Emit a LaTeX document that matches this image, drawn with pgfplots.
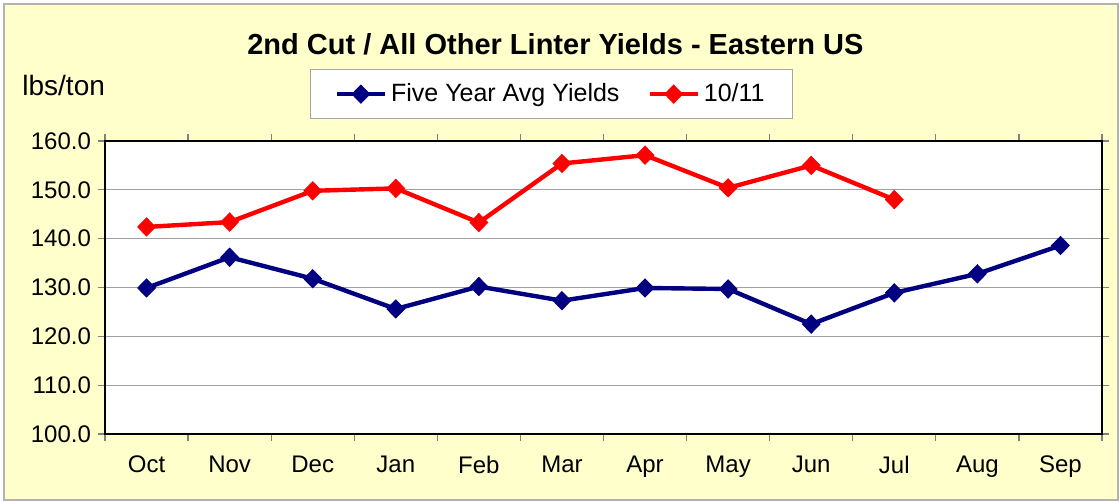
\documentclass[border=0pt]{standalone}
\usepackage{fontspec}
\setmainfont{Liberation Sans}
\usepackage{pgfplots}
\pgfplotsset{compat=1.18}
\definecolor{bgyellow}{HTML}{FFFFCC}
\definecolor{navyline}{HTML}{000080}
\definecolor{redline}{HTML}{FF0000}
\definecolor{gridgray}{HTML}{A0A0A0}
\begin{document}
\begin{tikzpicture}
\fill[white] (0pt,0pt) rectangle (560pt,251pt);
\fill[bgyellow] (2pt,1pt) rectangle (559pt,249pt);
\draw[gray!60, line width=0.6pt] (2pt,1pt) rectangle (559pt,249pt);
\node[anchor=base, font=\fontsize{14.5}{16}\selectfont\bfseries, inner sep=0pt] at (277.7pt,223.5pt) {2nd Cut / All Other Linter Yields - Eastern US};
\node[anchor=base west, font=\fontsize{14}{16}\selectfont, inner sep=0pt] at (11pt,203pt) {lbs/ton};
\begin{axis}[
  at={(52.5pt,34pt)}, anchor=south west,
  scale only axis, width=498.5pt, height=146.5pt,
  xmin=-0.5, xmax=11.5, ymin=100, ymax=160,
  xtick={0,...,11},
  xticklabels={Oct,Nov,Dec,Jan,Feb,Mar,Apr,May,Jun,Jul,Aug,Sep},
  minor xtick={-0.5,0.5,...,11.5},
  ytick={100,110,...,160},
  tick align=outside,
  major tick length=3.5pt, minor tick length=3.5pt,
  major x tick style={draw=none},
  minor x tick style={draw=gray, line width=0.6pt},
  y tick style={draw=gray, line width=0.6pt},
  ymajorgrids,
  major grid style={gridgray, line width=0.6pt},
  axis line style={black, line width=1pt},
  axis background/.style={fill=white},
  ticklabel style={font=\fontsize{12}{14}\selectfont},
  xticklabel style={yshift=-4pt},
  yticklabel style={/pgf/number format/fixed, /pgf/number format/fixed zerofill, /pgf/number format/precision=1, /pgf/number format/assume math mode=true},
  legend style={at={(0.448,1.16)}, anchor=center, legend columns=2, draw=gray!70, fill=white, font=\fontsize{12.5}{14}\selectfont, inner xsep=12pt, inner ysep=5pt, /tikz/every even column/.append style={column sep=12pt}},
  legend image code/.code={\draw[#1, mark repeat=2, mark phase=2] plot coordinates {(0pt,0pt) (12pt,0pt) (24pt,0pt)};},
]
\addplot[navyline, line width=2.2pt, mark=diamond*, mark size=4.5pt, mark options={solid, line width=0.5pt, xscale=1.3}] coordinates {
(0,129.9) (1,136.2) (2,131.8) (3,125.6) (4,130.2) (5,127.3) (6,129.9) (7,129.7) (8,122.5) (9,128.9) (10,132.8) (11,138.6)};
\addlegendentry{Five Year Avg Yields}
\addplot[redline, line width=2.2pt, mark=diamond*, mark size=4.5pt, mark options={solid, line width=0.5pt, xscale=1.3}] coordinates {
(0,142.4) (1,143.4) (2,149.8) (3,150.3) (4,143.3) (5,155.4) (6,157.1) (7,150.4) (8,155.0) (9,148.0)};
\addlegendentry{10/11}
\end{axis}
\end{tikzpicture}
\end{document}
